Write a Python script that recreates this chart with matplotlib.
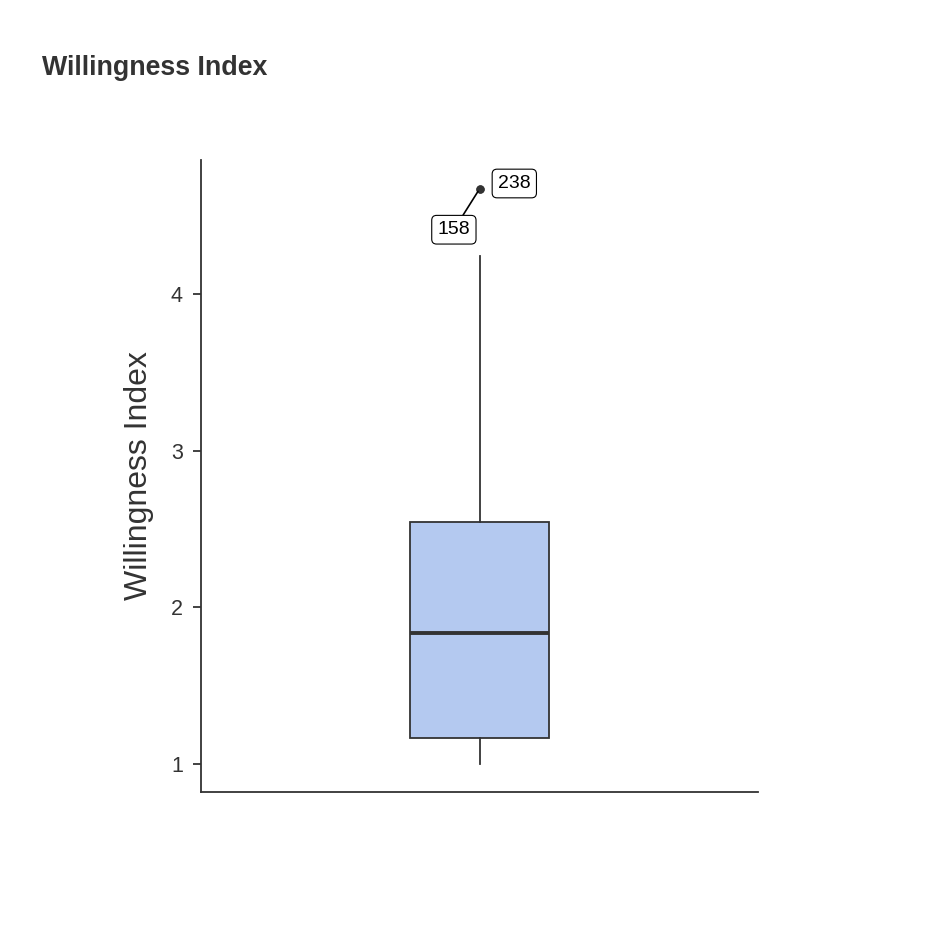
import matplotlib
matplotlib.use("Agg")
import matplotlib.pyplot as plt

# Data
group = ["Willingness Index"]
q1 = [1.166]
median = [1.836]
q3 = [2.545]
whisker_low = [1.0]
whisker_high = [4.242]
outlier_values = [4.67, 4.67]
outlier_ids = ["158", "238"]

plt.rcParams['font.family'] = ['Liberation Sans', 'DejaVu Sans']

fig = plt.figure(figsize=(9.48, 9.32), dpi=100)
ax = fig.add_axes([201/948, 1 - 792/932, (758-201)/948, (792-160)/932])

stats = [dict(med=median[0], q1=q1[0], q3=q3[0], whislo=whisker_low[0],
              whishi=whisker_high[0], fliers=outlier_values, label=group[0])]
ax.bxp(stats, positions=[0], widths=0.5, patch_artist=True, showcaps=False,
       boxprops=dict(facecolor="#b4c9f0", edgecolor="#333333", linewidth=1.3),
       medianprops=dict(color="#333333", linewidth=2.8),
       whiskerprops=dict(color="#333333", linewidth=1.3),
       flierprops=dict(marker="o", markerfacecolor="#333333", markeredgecolor="#333333",
                       markersize=5))

ax.set_xlim(-1, 1)
ax.set_ylim(0.821, 4.855)
ax.set_yticks([1, 2, 3, 4])
ax.set_xticks([])
ax.tick_params(axis='y', labelsize=15.5, colors="#333333", length=6, width=1.3, pad=7)
for s in ["top", "right"]:
    ax.spines[s].set_visible(False)
for s in ["left", "bottom"]:
    ax.spines[s].set_color("#333333")
    ax.spines[s].set_linewidth(1.3)
ax.set_ylabel("Willingness Index", fontsize=23, color="#333333", labelpad=12)

bbox = dict(boxstyle="round,pad=0.3,rounding_size=0.25", facecolor="white",
            edgecolor="black", linewidth=0.8)
# label 158 with leader line
ax.annotate(outlier_ids[0], xy=(0, outlier_values[0]), xytext=(-0.092, 4.41),
            fontsize=14, ha="center", va="center", bbox=bbox,
            arrowprops=dict(arrowstyle="-", color="black", linewidth=1.2, shrinkA=0, shrinkB=2))
ax.annotate(outlier_ids[1], xy=(0, outlier_values[1]), xytext=(0.125, 4.705),
            fontsize=14, ha="center", va="center", bbox=bbox)

fig.text(42/948, 1 - 68/932, "Willingness Index", fontsize=19.3, fontweight="bold",
         color="#333333", ha="left", va="center")

fig.savefig("out.png", dpi=100)
